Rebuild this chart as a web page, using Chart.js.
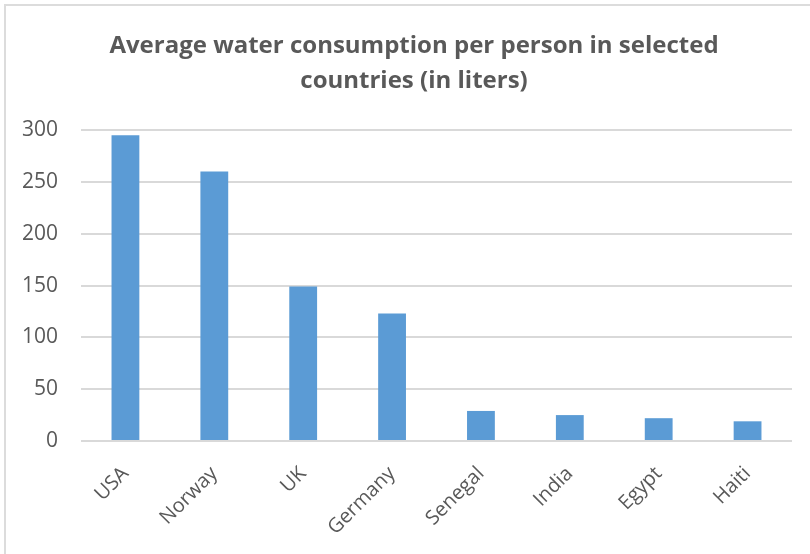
<!DOCTYPE html>
<html>
<head>
<meta charset="utf-8">
<script src="https://cdn.jsdelivr.net/npm/chart.js@4/dist/chart.umd.min.js"></script>
<style>
  html, body { margin: 0; padding: 0; background: #fff; overflow: hidden; }
  #wrap { position: relative; width: 810px; height: 554px; }
  #frame { position: absolute; left: 4px; top: 4px; width: 830px; height: 570px; border: 2px solid #dcdcdc; box-sizing: border-box; }
  #chart { position: absolute; left: 0; top: 0; }
</style>
</head>
<body>
<div id="wrap">
  <div id="frame"></div>
  <canvas id="chart" width="810" height="554"></canvas>
</div>
<script>
var titleLines = ['Average water consumption per person in selected', 'countries (in liters)'];
var countries = ['USA', 'Norway', 'UK', 'Germany', 'Senegal', 'India', 'Egypt', 'Haiti'];
var liters = [295, 260, 149, 123, 29, 25, 22, 19];
var yTicks = [0, 50, 100, 150, 200, 250, 300];

var textColor = '#595959';
var ctx = document.getElementById('chart').getContext('2d');

// the original title sits a bit right of the padded centre
var titleShift = {
  id: 'titleShift',
  afterLayout: function(chart) {
    if (chart.titleBlock) {
      chart.titleBlock.left += 13;
      chart.titleBlock.right += 13;
    }
  }
};

var chart = new Chart(ctx, {
  type: 'bar',
  data: {
    labels: countries,
    datasets: [{
      label: 'Liters',
      data: liters,
      backgroundColor: '#5b9bd5',
      borderWidth: 0,
      categoryPercentage: 1,
      barPercentage: 0.313
    }]
  },
  plugins: [titleShift],
  options: {
    responsive: false,
    animation: false,
    layout: { padding: { left: 10, right: 18, top: 10, bottom: 0 } },
    plugins: {
      legend: { display: false },
      tooltip: { enabled: false },
      title: {
        display: true,
        text: titleLines,
        color: textColor,
        font: { family: 'Open Sans', size: 24, weight: 'bold', lineHeight: 1.46 },
        padding: { top: 19, bottom: 31 }
      }
    },
    scales: {
      x: {
        grid: { display: false },
        border: { display: false },
        afterFit: function(scale) { scale.height = 113; },
        ticks: {
          color: textColor,
          font: { family: 'Open Sans', size: 20 },
          minRotation: 45,
          maxRotation: 45,
          padding: 13
        }
      },
      y: {
        min: 0,
        max: 300,
        afterFit: function(scale) { scale.width = 71; },
        afterBuildTicks: function(scale) {
          scale.ticks = yTicks.map(function(v) { return { value: v }; });
        },
        grid: { color: '#d9d9d9', lineWidth: 2, drawTicks: false },
        border: { display: false },
        ticks: {
          color: textColor,
          font: { family: 'Open Sans', size: 21 },
          padding: 23
        }
      }
    }
  }
});
</script>
</body>
</html>
